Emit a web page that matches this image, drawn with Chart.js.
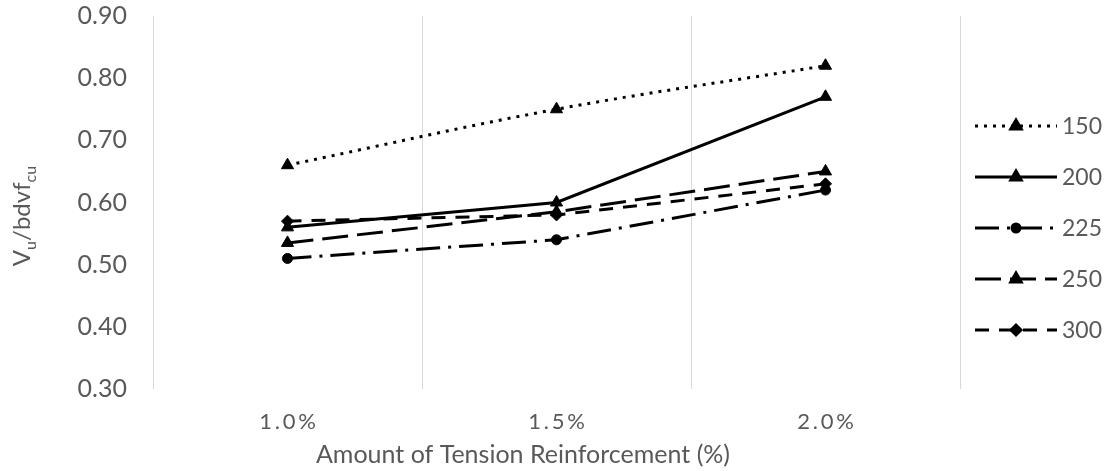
<!DOCTYPE html>
<html>
<head>
<meta charset="utf-8">
<script src="https://cdn.jsdelivr.net/npm/chart.js@4/dist/chart.umd.min.js"></script>
<style>
  html, body { margin: 0; padding: 0; background: #fff; }
  #wrap { width: 1108px; height: 471px; position: relative; }
</style>
</head>
<body>
<div id="wrap"><canvas id="c"></canvas></div>
<script>
// Shear capacity ratio vs. amount of tension reinforcement, per series
const categories = ['1.0%', '1.5%', '2.0%'];
const seriesNames = ['150', '200', '225', '250', '300'];
const s150 = [0.66, 0.75, 0.82];
const s200 = [0.56, 0.60, 0.77];
const s225 = [0.51, 0.54, 0.62];
const s250 = [0.535, 0.585, 0.65];
const s300 = [0.57, 0.58, 0.63];
const yTicks = [0.30, 0.40, 0.50, 0.60, 0.70, 0.80, 0.90];

const FONT = 'Lato, "Liberation Sans", sans-serif';
const TEXT = '#595959';

function series(label, data, dash, style, radius, tension) {
  return {
    label, data,
    borderColor: '#000', backgroundColor: '#000',
    borderWidth: 3, borderDash: dash, borderCapStyle: 'butt',
    pointStyle: style, pointRadius: radius, pointHoverRadius: radius,
    pointBackgroundColor: '#000', pointBorderColor: '#000', pointBorderWidth: 1,
    tension: tension || 0, fill: false
  };
}

const datasets = [
  series(seriesNames[0], s150, [3, 6], 'triangle', 7, 0.35),
  series(seriesNames[1], s200, [], 'triangle', 7),
  series(seriesNames[2], s225, [24, 8, 3, 8], 'circle', 5),
  series(seriesNames[3], s250, [26, 9], 'triangle', 7),
  series(seriesNames[4], s300, [14, 10], 'rectRot', 6)
];

// Legend on the right: line sample with the marker in the middle
const sideLegend = {
  id: 'sideLegend',
  afterDraw(chart) {
    const ctx = chart.ctx;
    const x0 = 975, x1 = 1057;
    const ys = [126, 177, 228, 279, 330];
    chart.data.datasets.forEach((ds, i) => {
      const y = ys[i];
      ctx.save();
      ctx.strokeStyle = ds.borderColor;
      ctx.lineWidth = ds.borderWidth;
      ctx.setLineDash(ds.borderDash);
      ctx.beginPath();
      ctx.moveTo(x0, y);
      ctx.lineTo(x1, y);
      ctx.stroke();
      ctx.setLineDash([]);
      Chart.helpers.drawPoint(ctx, {
        pointStyle: ds.pointStyle, radius: ds.pointRadius - 1, rotation: 0, borderWidth: 1
      }, (x0 + x1) / 2, y);
      ctx.fillStyle = TEXT;
      ctx.font = '23px ' + FONT;
      ctx.textAlign = 'left';
      ctx.textBaseline = 'middle';
      ctx.fillText(ds.label, x1 + 5, y + 1);
      ctx.restore();
    });
  }
};

// Axis titles (y title carries subscripts)
const axisTitles = {
  id: 'axisTitles',
  afterDraw(chart) {
    const ctx = chart.ctx;
    ctx.save();
    ctx.fillStyle = TEXT;
    ctx.textBaseline = 'alphabetic';
    ctx.font = '25px ' + FONT;
    ctx.textAlign = 'center';
    ctx.fillText('Amount of Tension Reinforcement (%)', 523, 463);

    const parts = [
      ['V', 24, 0], ['u', 16, 6], ['/bdvf', 24, 0], ['cu', 16, 6]
    ];
    let total = 0;
    parts.forEach(p => { ctx.font = p[1] + 'px ' + FONT; total += ctx.measureText(p[0]).width; });
    ctx.translate(30, 216);
    ctx.rotate(-Math.PI / 2);
    ctx.textAlign = 'left';
    let x = -total / 2;
    parts.forEach(p => {
      ctx.font = p[1] + 'px ' + FONT;
      ctx.fillText(p[0], x, p[2]);
      x += ctx.measureText(p[0]).width;
    });
    ctx.restore();
  }
};

new Chart(document.getElementById('c'), {
  type: 'line',
  data: { labels: categories, datasets },
  options: {
    responsive: true,
    maintainAspectRatio: false,
    animation: false,
    layout: { padding: { top: 16, right: 148, left: 0, bottom: 0 } },
    plugins: { legend: { display: false }, tooltip: { enabled: false } },
    scales: {
      x: {
        type: 'category',
        offset: true,
        grid: { offset: true, color: '#d9d9d9', lineWidth: 1, drawTicks: false },
        border: { display: false },
        ticks: {
          color: TEXT, padding: 20,
          font: { family: FONT, size: 22 },
          callback: (v, i) => categories[i].split('').join('\u2009')
        },
        afterFit: s => { s.height = 82; s.paddingLeft = 0; s.paddingRight = 0; }
      },
      y: {
        min: yTicks[0], max: yTicks[yTicks.length - 1],
        grid: { display: false },
        border: { display: false },
        afterBuildTicks: s => { s.ticks = yTicks.map(v => ({ value: v })); },
        ticks: {
          color: TEXT, padding: 18,
          font: { family: FONT, size: 25 },
          callback: v => v.toFixed(2)
        },
        afterFit: s => { s.width = 153; s.paddingTop = 0; s.paddingBottom = 0; }
      }
    }
  },
  plugins: [sideLegend, axisTitles]
});
</script>
</body>
</html>
